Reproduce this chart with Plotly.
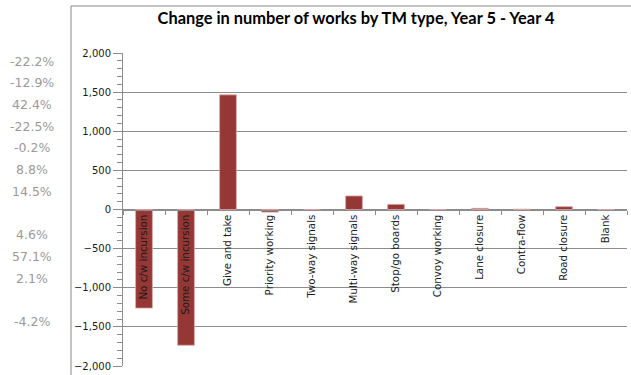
import plotly.graph_objects as go

# Traffic-management types and the year-on-year change in works
categories = [
    "No c/w incursion", "Some c/w incursion", "Give and take", "Priority working",
    "Two-way signals", "Multi-way signals", "Stop/go boards", "Convoy working",
    "Lane closure", "Contra-flow", "Road closure", "Blank",
]
changes = [-1260, -1735, 1465, -33, -5, 173, 66, -3, 15, 4, 36, 0]

# Percentage change column shown beside the chart ("" = empty cell)
pct_labels = ["-22.2%", "-12.9%", "42.4%", "-22.5%", "-0.2%", "8.8%", "14.5%",
              "", "4.6%", "57.1%", "2.1%", "", "-4.2%"]

y_ticks = [-2000, -1500, -1000, -500, 0, 500, 1000, 1500, 2000]

W, H = 631, 375
ML, MR, MT, MB = 123, 4, 53, 9
PW, PH = W - ML - MR, H - MT - MB


def px_x(x):
    return (x - ML) / PW


def px_y(y):
    return (H - MB - y) / PH


GRID = "#8c8c8c"
TXT = "#1a1a1a"

fig = go.Figure(go.Bar(
    x=categories,
    y=changes,
    marker=dict(color="#953735", line=dict(color="#dba9a8", width=0.8)),
    width=0.4,
    hoverinfo="x+y",
))

# Chart-area frame
fig.add_shape(type="rect", xref="paper", yref="paper",
              x0=px_x(71), x1=px_x(W + 20), y0=px_y(H + 20), y1=px_y(6),
              line=dict(color="#878787", width=1), fillcolor="rgba(0,0,0,0)",
              layer="below")

# Percentage column on the sheet
row_h = 21.7
for i, lab in enumerate(pct_labels):
    if not lab:
        continue
    fig.add_annotation(x=px_x(32), y=px_y(61 + i * row_h), xref="paper", yref="paper",
                       text=lab, showarrow=False, xanchor="center", yanchor="middle",
                       font=dict(family="DejaVu Sans", size=12.5, color="#9a9a9a"))

fig.update_layout(
    width=W, height=H,
    margin=dict(l=ML, r=MR, t=MT, b=MB, pad=0),
    paper_bgcolor="white", plot_bgcolor="white",
    showlegend=False,
    title=dict(text="<b>Change in number of works by TM type, Year 5 - Year 4</b>",
               x=356 / W, xanchor="center", xref="container",
               y=1 - 18 / H, yanchor="middle", yref="container",
               font=dict(family="Lato", size=16.4, color="#000000")),
    font=dict(family="DejaVu Sans", size=10, color=TXT),
)

fig.update_yaxes(
    range=[-2000, 2000], tickvals=y_ticks, tickformat=",",
    showgrid=True, gridcolor=GRID, gridwidth=1,
    showline=True, linecolor=GRID, linewidth=1,
    ticks="outside", ticklen=9, tickcolor=GRID,
    minor=dict(dtick=100, ticks="outside", ticklen=5, tickcolor=GRID, showgrid=False),
    zeroline=False,
    tickfont=dict(family="DejaVu Sans", size=10, color=TXT),
)

fig.update_xaxes(
    anchor="free", position=0.5,
    showline=True, linecolor=GRID, linewidth=1,
    ticks="outside", ticklen=4, tickcolor=GRID, tickson="boundaries",
    tickangle=-90, showgrid=False,
    tickfont=dict(family="DejaVu Sans", size=10.3, color=TXT),
    range=[-0.5, len(categories) - 0.5],
)

fig.write_html("out.html")
